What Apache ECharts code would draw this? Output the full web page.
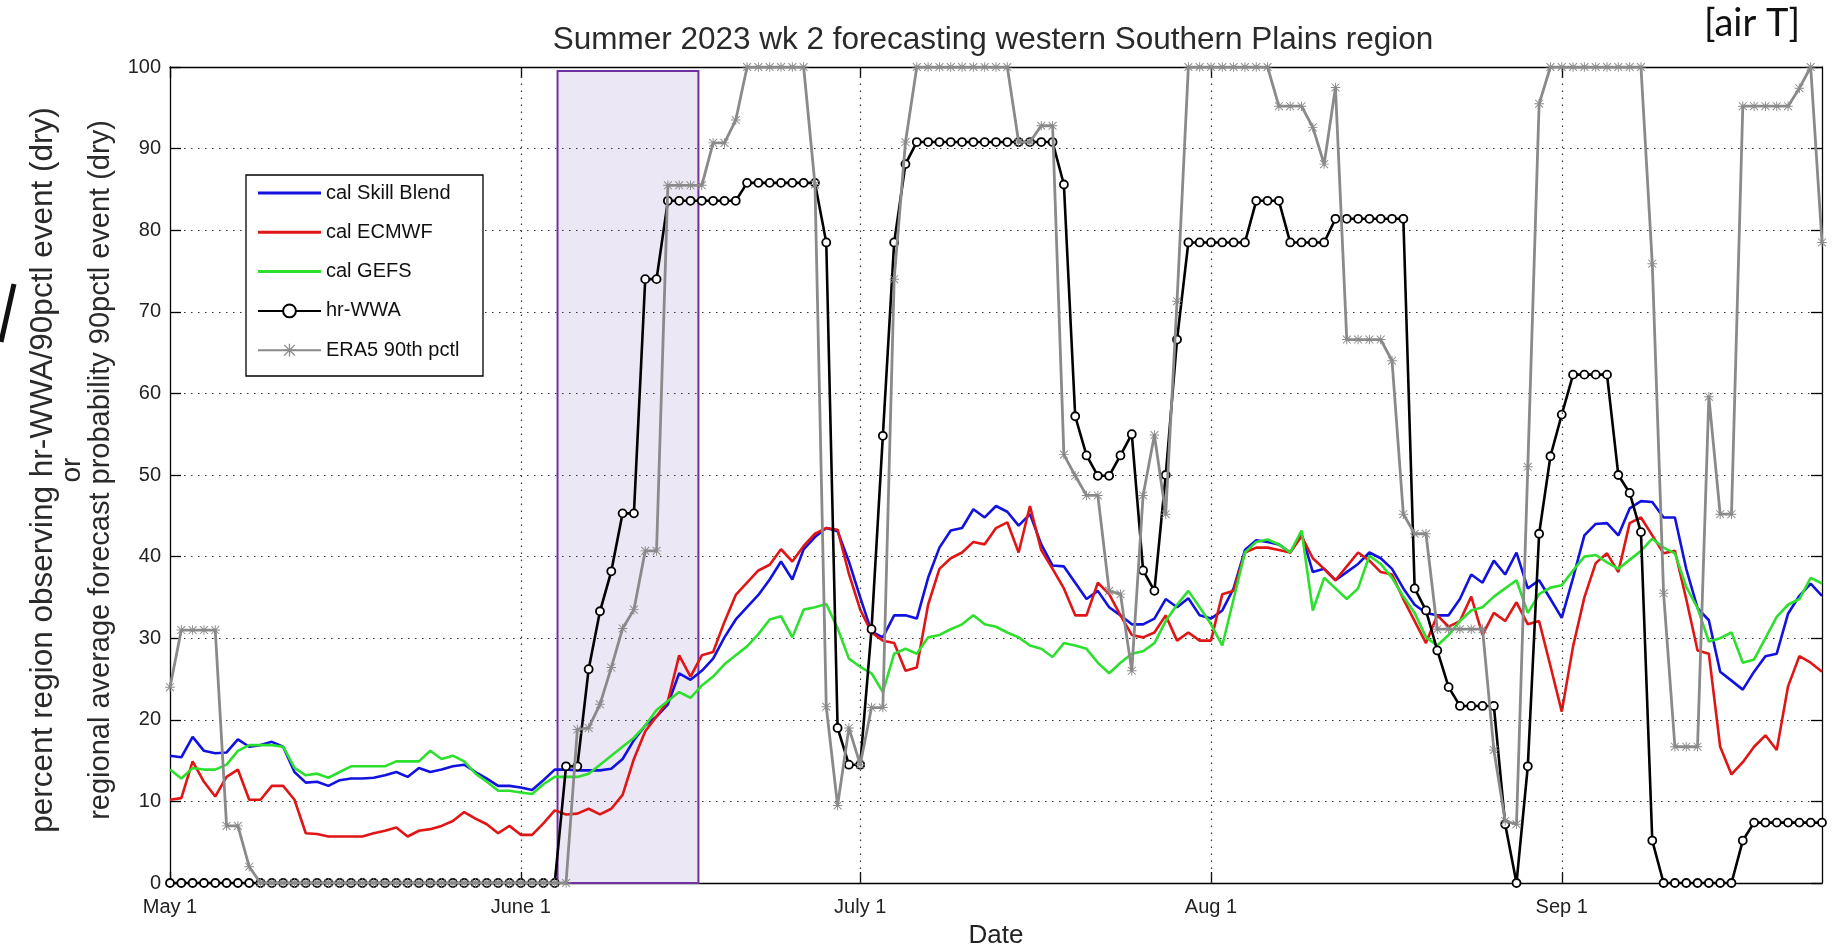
<!DOCTYPE html>
<html><head><meta charset="utf-8">
<script src="https://cdn.jsdelivr.net/npm/echarts@6/dist/echarts.min.js"></script>
<style>html,body{margin:0;padding:0;background:#fff}#c{width:1834px;height:949px}</style>
</head><body><div id="c"></div>
<script>
// x = day index counted from May 1 (May 1 = 0 ... Sep 24 = 146)
const monthTicks = [0, 31, 61, 92, 123];
const monthLabels = ['May 1', 'June 1', 'July 1', 'Aug 1', 'Sep 1'];
const seriesNames = ['cal Skill Blend', 'cal ECMWF', 'cal GEFS', 'hr-WWA', 'ERA5 90th pctl'];
const highlightWindow = [34.25, 46.7]; // shaded week-2 window (days from May 1)

const skillBlend = [
  // May
  15.6,15.4,17.9,16.2,15.9,16.0,17.6,16.7,16.9,17.3,16.7,13.6,12.3,12.4,11.9,12.6,12.8,12.8,12.9,13.2,13.6,13.0,14.1,13.6,13.9,14.3,14.5,13.6,12.8,11.9,11.9,
  // June
  11.7,11.4,12.6,13.9,13.9,13.8,13.8,13.8,14.0,15.2,17.5,19.3,20.4,21.9,25.7,24.9,26.0,27.5,30.1,32.3,33.8,35.3,37.2,39.4,37.2,40.9,42.4,43.5,43.1,39.4,
  // July
  35.0,30.8,30.1,32.8,32.8,32.4,37.4,41.1,43.2,43.5,45.8,44.8,46.2,45.5,43.8,45.2,41.5,38.9,38.8,36.8,34.8,35.8,33.8,32.8,31.7,31.7,32.4,34.8,33.8,34.9,32.8,
  // Aug
  32.4,33.4,36.1,40.8,42.0,41.8,41.5,40.5,42.8,38.1,38.5,37.1,38.1,39.1,40.5,39.8,38.5,36.1,34.1,33.1,32.8,32.8,34.8,37.8,36.8,39.5,37.8,40.5,36.1,37.1,34.8,
  // Sep
  32.5,37.4,42.6,44.0,44.1,42.6,45.9,46.8,46.7,44.8,44.8,38.5,33.7,32.2,25.9,24.8,23.7,25.9,27.8,28.1,33.0,35.2,36.7,35.2
];
const ecmwf = [
  10.2,10.4,14.9,12.4,10.6,13.0,13.9,10.2,10.2,11.9,11.9,10.2,6.1,6.0,5.7,5.7,5.7,5.7,6.1,6.4,6.8,5.7,6.4,6.6,7.0,7.6,8.7,7.9,7.2,6.1,7.0,
  5.9,5.9,7.3,8.9,8.4,8.5,9.1,8.4,9.1,10.8,15.2,18.6,20.4,22.3,27.9,25.3,27.9,28.3,32.0,35.3,36.8,38.3,39.0,40.9,39.4,41.3,42.8,43.5,43.3,37.9,
  33.5,30.7,29.7,29.4,26.0,26.4,34.1,38.5,39.8,40.5,41.8,41.5,43.5,44.2,40.5,46.2,40.8,38.5,36.1,32.8,32.8,36.8,35.4,32.8,30.4,30.1,30.7,32.8,29.7,30.7,29.7,
  29.7,35.4,35.8,40.5,41.1,41.1,40.8,40.5,42.5,39.8,38.5,37.1,38.8,40.5,39.5,38.1,37.8,34.8,32.1,29.4,32.8,31.4,32.1,35.1,30.4,33.1,32.1,34.4,31.7,32.1,26.6,
  21.0,29.0,35.0,39.2,40.4,38.1,44.1,44.8,42.6,40.4,40.7,34.8,28.5,28.1,16.7,13.3,14.8,16.7,18.1,16.3,24.1,27.8,27.0,25.9
];
const gefs = [
  13.9,12.8,14.1,13.9,13.9,14.5,16.2,16.9,16.9,16.9,16.7,14.1,13.2,13.4,12.9,13.6,14.3,14.3,14.3,14.3,14.9,14.9,14.9,16.2,15.2,15.6,14.9,13.4,12.4,11.3,11.3,
  11.1,10.9,12.1,13.0,13.0,13.0,13.4,14.5,15.6,16.7,17.8,19.3,21.2,22.3,23.4,22.7,24.2,25.3,26.8,27.9,29.0,30.5,32.3,32.7,30.1,33.5,33.8,34.2,31.2,27.5,
  26.5,25.7,23.4,28.1,28.7,28.1,30.1,30.4,31.1,31.7,32.8,31.7,31.4,30.7,30.1,29.1,28.7,27.7,29.4,29.1,28.7,27.0,25.7,27.0,28.1,28.4,29.4,32.1,34.1,35.8,33.8,
  31.7,29.1,34.8,40.5,41.8,42.1,41.5,40.5,43.2,33.4,37.4,36.1,34.8,36.1,40.1,39.1,37.4,35.1,33.1,30.1,29.1,30.4,32.1,33.4,33.8,35.1,36.1,37.1,33.1,35.4,36.2,
  36.5,38.3,40.0,40.2,39.3,38.5,39.6,40.7,42.2,41.1,40.4,36.3,33.7,29.6,30.0,30.7,27.0,27.4,30.0,32.6,34.1,34.8,37.4,36.7
];
const hrWWA = [
  0,0,0,0,0,0,0,0,0,0,0,0,0,0,0,0,0,0,0,0,0,0,0,0,0,0,0,0,0,0,0,
  0,0,0,0,14.3,14.3,26.2,33.3,38.2,45.3,45.3,74.0,74.0,83.6,83.6,83.6,83.6,83.6,83.6,83.6,85.8,85.8,85.8,85.8,85.8,85.8,85.8,78.5,19.0,14.5,
  14.5,31.1,54.8,78.5,88.1,90.8,90.8,90.8,90.8,90.8,90.8,90.8,90.8,90.8,90.8,90.8,90.8,90.8,85.6,57.2,52.4,49.9,49.9,52.4,55.0,38.3,35.8,50.0,66.6,78.5,78.5,
  78.5,78.5,78.5,78.5,83.6,83.6,83.6,78.5,78.5,78.5,78.5,81.4,81.4,81.4,81.4,81.4,81.4,81.4,36.1,33.4,28.5,24.0,21.7,21.7,21.7,21.7,7.2,0,14.3,42.8,52.3,
  57.4,62.3,62.3,62.3,62.3,50.0,47.8,43.0,5.2,0,0,0,0,0,0,0,5.2,7.4,7.4,7.4,7.4,7.4,7.4,7.4
];
const era5 = [
  24.0,31.0,31.0,31.0,31.0,7.0,7.0,2.0,0,0,0,0,0,0,0,0,0,0,0,0,0,0,0,0,0,0,0,0,0,0,0,
  0,0,0,0,0,18.8,19.0,21.9,26.4,31.2,33.5,40.7,40.7,85.5,85.5,85.5,85.5,90.7,90.7,93.5,100,100,100,100,100,100,85.6,21.6,9.5,19.0,
  14.5,21.5,21.5,74.0,90.8,100,100,100,100,100,100,100,100,100,90.8,90.8,92.8,92.8,52.5,49.9,47.5,47.5,35.8,35.4,26.0,47.5,54.9,45.2,71.3,100,100,
  100,100,100,100,100,100,95.2,95.2,95.2,92.6,88.1,97.5,66.6,66.6,66.6,66.6,64.0,45.2,42.8,42.8,31.1,31.1,31.1,31.1,31.1,16.3,7.6,7.2,51.0,95.5,100,
  100,100,100,100,100,100,100,100,75.9,35.5,16.7,16.7,16.7,59.6,45.2,45.2,95.2,95.2,95.2,95.2,95.2,97.4,100,78.5
];

const toXY = arr => arr.map((v, i) => [i, v]);
const ASTERISK = 'path://M0 9L20 9L20 11L0 11Z M9 0L11 0L11 20L9 20Z M1 2.4L2.4 1L19 17.6L17.6 19Z M17.6 1L19 2.4L2.4 19L1 17.6Z';
const LINE_ICON = 'path://M0 0L63 0L63 3L0 3Z';
const FONT = "'Liberation Sans', Arial, sans-serif";
const colors = ['#1212e0', '#e01515', '#2ee02e', '#000000', '#8a8a8a'];

const chart = echarts.init(document.getElementById('c'), null, {renderer: 'canvas'});
const lineSeries = (name, data, color, extra) => Object.assign({
  name, type: 'line', data: toXY(data), xAxisIndex: 0, yAxisIndex: 0,
  symbol: 'none', showSymbol: false, smooth: false,
  lineStyle: {color, width: 2.6}, itemStyle: {color}, emphasis: {disabled: true}, z: 3
}, extra || {});

const axisLineStyle = {color: '#000', width: 1.3};
const option = {
  backgroundColor: '#fff',
  animation: false,
  title: {
    text: 'Summer 2023 wk 2 forecasting western Southern Plains region',
    left: 988, top: 19, textAlign: 'center',
    textStyle: {fontFamily: FONT, fontSize: 31.5, fontWeight: 'normal', color: '#2a2a2a'}
  },
  grid: {left: 170, right: 12, top: 67, bottom: 66, containLabel: false, outerBoundsMode: 'none'},
  legend: {
    data: seriesNames.map((n, i) => i < 3 ? {name: n, icon: LINE_ICON} : {name: n}),
    orient: 'vertical', left: 257, top: 183,
    itemWidth: 63, itemHeight: 16, itemGap: 19.3,
    textStyle: {fontFamily: FONT, fontSize: 20, color: '#111'},
    backgroundColor: 'transparent', borderWidth: 0, padding: 0,
    selectedMode: false, z: 10
  },
  xAxis: [{
    type: 'value', min: 0, max: 146, position: 'bottom',
    name: 'Date', nameLocation: 'middle', nameGap: 40,
    nameTextStyle: {fontFamily: FONT, fontSize: 26, color: '#222'},
    axisLine: {show: true, onZero: false, lineStyle: axisLineStyle},
    axisTick: {show: true, inside: true, length: 11, customValues: monthTicks, lineStyle: axisLineStyle},
    axisLabel: {show: true, customValues: monthTicks, margin: 14,
      formatter: v => monthLabels[monthTicks.indexOf(v)] || '',
      fontFamily: FONT, fontSize: 20, color: '#222'},
    splitLine: {show: false}
  }, {
    type: 'value', min: 0, max: 146, position: 'top',
    axisLine: {show: true, onZero: false, lineStyle: axisLineStyle},
    axisTick: {show: true, inside: true, length: 11, customValues: monthTicks, lineStyle: axisLineStyle},
    axisLabel: {show: false}, splitLine: {show: false}
  }],
  yAxis: [{
    type: 'value', min: 0, max: 100, interval: 10, position: 'left',
    axisLine: {show: true, onZero: false, lineStyle: axisLineStyle},
    axisTick: {show: true, inside: true, length: 11, lineStyle: axisLineStyle},
    axisLabel: {show: true, margin: 9, fontFamily: FONT, fontSize: 20, color: '#222'},
    splitLine: {show: true, lineStyle: {color: '#333', width: 1.2, type: [1.5, 5.5]}}
  }, {
    type: 'value', min: 0, max: 100, interval: 10, position: 'right',
    axisLine: {show: true, onZero: false, lineStyle: axisLineStyle},
    axisTick: {show: true, inside: true, length: 11, lineStyle: axisLineStyle},
    axisLabel: {show: false}, splitLine: {show: false}
  }],
  graphic: [
    {type: 'rect', z: 5, shape: {x: 246, y: 175, width: 237, height: 201},
     style: {fill: '#fff', stroke: '#000', lineWidth: 1.3}},
    {type: 'text', x: 43, y: 470, rotation: Math.PI / 2,
     style: {text: 'percent region observing hr-WWA/90pctl event (dry)', fontFamily: FONT, fontSize: 31.5,
       fill: '#2a2a2a', align: 'center', verticalAlign: 'middle'}},
    {type: 'text', x: 72, y: 470, rotation: Math.PI / 2,
     style: {text: 'or', fontFamily: FONT, fontSize: 28, fill: '#2a2a2a', align: 'center', verticalAlign: 'middle'}},
    {type: 'text', x: 101, y: 470, rotation: Math.PI / 2,
     style: {text: 'regional average forecast probability 90pctl event (dry)', fontFamily: FONT, fontSize: 29,
       fill: '#2a2a2a', align: 'center', verticalAlign: 'middle'}},
    {type: 'text', x: 1752, y: 24,
     style: {text: '[air T]', fontFamily: "Lato, 'Open Sans', sans-serif", fontSize: 38, fill: '#111',
       align: 'center', verticalAlign: 'middle'}},
    {type: 'line', shape: {x1: 14, y1: 284, x2: 1, y2: 342}, style: {stroke: '#111', lineWidth: 5}}
  ],
  series: [
    {
      name: 'window', type: 'line', data: [], xAxisIndex: 0, yAxisIndex: 0, z: 1, silent: true,
      markArea: {silent: true,
        itemStyle: {color: 'rgba(110, 70, 170, 0.13)', borderColor: '#7030a0', borderWidth: 2},
        data: [[{xAxis: highlightWindow[0], yAxis: 0}, {xAxis: highlightWindow[1], yAxis: 99.5}]]},
      markLine: {silent: true, symbol: ['none', 'none'], label: {show: false},
        lineStyle: {color: '#333', width: 1.2, type: [1.5, 5.5]},
        data: monthTicks.slice(1).map(v => ({xAxis: v}))}
    },
    lineSeries(seriesNames[0], skillBlend, colors[0]),
    lineSeries(seriesNames[1], ecmwf, colors[1]),
    lineSeries(seriesNames[2], gefs, colors[2]),
    lineSeries(seriesNames[3], hrWWA, colors[3], {
      symbol: 'circle', showSymbol: true, symbolSize: 8,
      itemStyle: {color: '#fff', borderColor: '#000', borderWidth: 1.8},
      lineStyle: {color: '#000', width: 2.6}, z: 4}),
    lineSeries(seriesNames[4], era5, colors[4], {
      symbol: ASTERISK, showSymbol: true, symbolSize: 9.5,
      itemStyle: {color: colors[4]},
      lineStyle: {color: colors[4], width: 2.8}, z: 5})
  ]
};
chart.setOption(option);
</script></body></html>
